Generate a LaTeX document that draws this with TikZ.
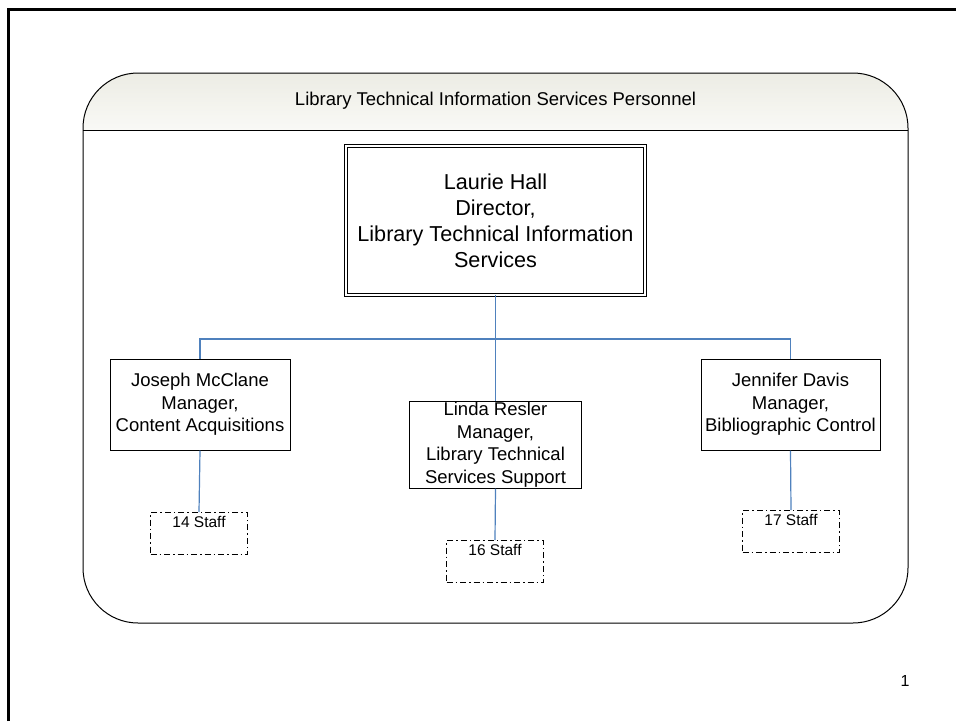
\documentclass[tikz,border=0pt]{standalone}
\usepackage{fontspec}
\setmainfont{Liberation Sans}

\definecolor{linkblue}{HTML}{4F81BD}
\definecolor{headtop}{HTML}{ECECE4}
\definecolor{headbot}{HTML}{F9F9F6}

\tikzset{
  mgr/.style={draw=black, line width=1pt, align=center, inner sep=0pt,
    minimum height=91pt, font=\fontsize{18.5}{22.5}\selectfont},
  staffbox/.style={draw=black, line width=1pt,
    dash pattern=on 6pt off 3pt on 1.5pt off 3pt,
    minimum width=97pt, inner xsep=0pt, inner ysep=3pt,
    text height=12pt, text depth=24pt, anchor=north,
    font=\fontsize{15.5}{17}\selectfont},
  link/.style={draw=linkblue, line width=1.2pt},
}

\begin{document}
\begin{tikzpicture}[x=1pt,y=-1pt]
\useasboundingbox (0,0) rectangle (956,721);
\draw[line width=3pt] (8,721) -- (8,9) -- (956,9); % page frame

% container with header band
\begin{scope}
\clip[rounded corners=55pt] (83,73) rectangle (908,623);
\shade[top color=headtop, bottom color=headbot] (83,73) rectangle (908,130);
\end{scope}
\draw[line width=1pt, rounded corners=55pt] (83,73) rectangle (908,623);
\draw[line width=1pt] (83,130) -- (908,130);
\node[font=\fontsize{18.5}{22}\selectfont] (title) at (495.5,101) {Library Technical Information Services Personnel};

% people
\node[draw, double, double distance=2.6pt, line width=0.9pt, minimum width=299pt,
  minimum height=149pt, inner sep=0pt, align=center,
  font=\fontsize{21.6}{26}\selectfont] (director) at (495.5,220.5)
  {Laurie Hall\\Director,\\Library Technical Information\\Services};
\node[mgr, minimum width=180pt] (joseph) at (200,404.5) {Joseph McClane\\Manager,\\Content Acquisitions};
\node[mgr, minimum width=172pt, minimum height=87pt] (linda) at (495.5,444.5) {Linda Resler\\Manager,\\Library Technical\\Services Support};
\node[mgr, minimum width=179pt] (jennifer) at (790.5,404.5) {Jennifer Davis\\Manager,\\Bibliographic Control};

% staff
\node[staffbox] (s14) at (199,512) {14 Staff};
\node[staffbox] (s16) at (495,540) {16 Staff};
\node[staffbox] (s17) at (791,510) {17 Staff};

% connectors
\coordinate (bus) at (495.5,339);
\draw[link] (director.south) -- (linda.north);
\draw[link] (joseph.north) |- (bus) -| (jennifer.north);
\foreach \m/\s in {joseph/s14,linda/s16,jennifer/s17}
  \draw[link] (\m.south) -- (\s.north);

\node[font=\fontsize{16}{18}\selectfont] (pagenum) at (905,681) {1};
\end{tikzpicture}
\end{document}
